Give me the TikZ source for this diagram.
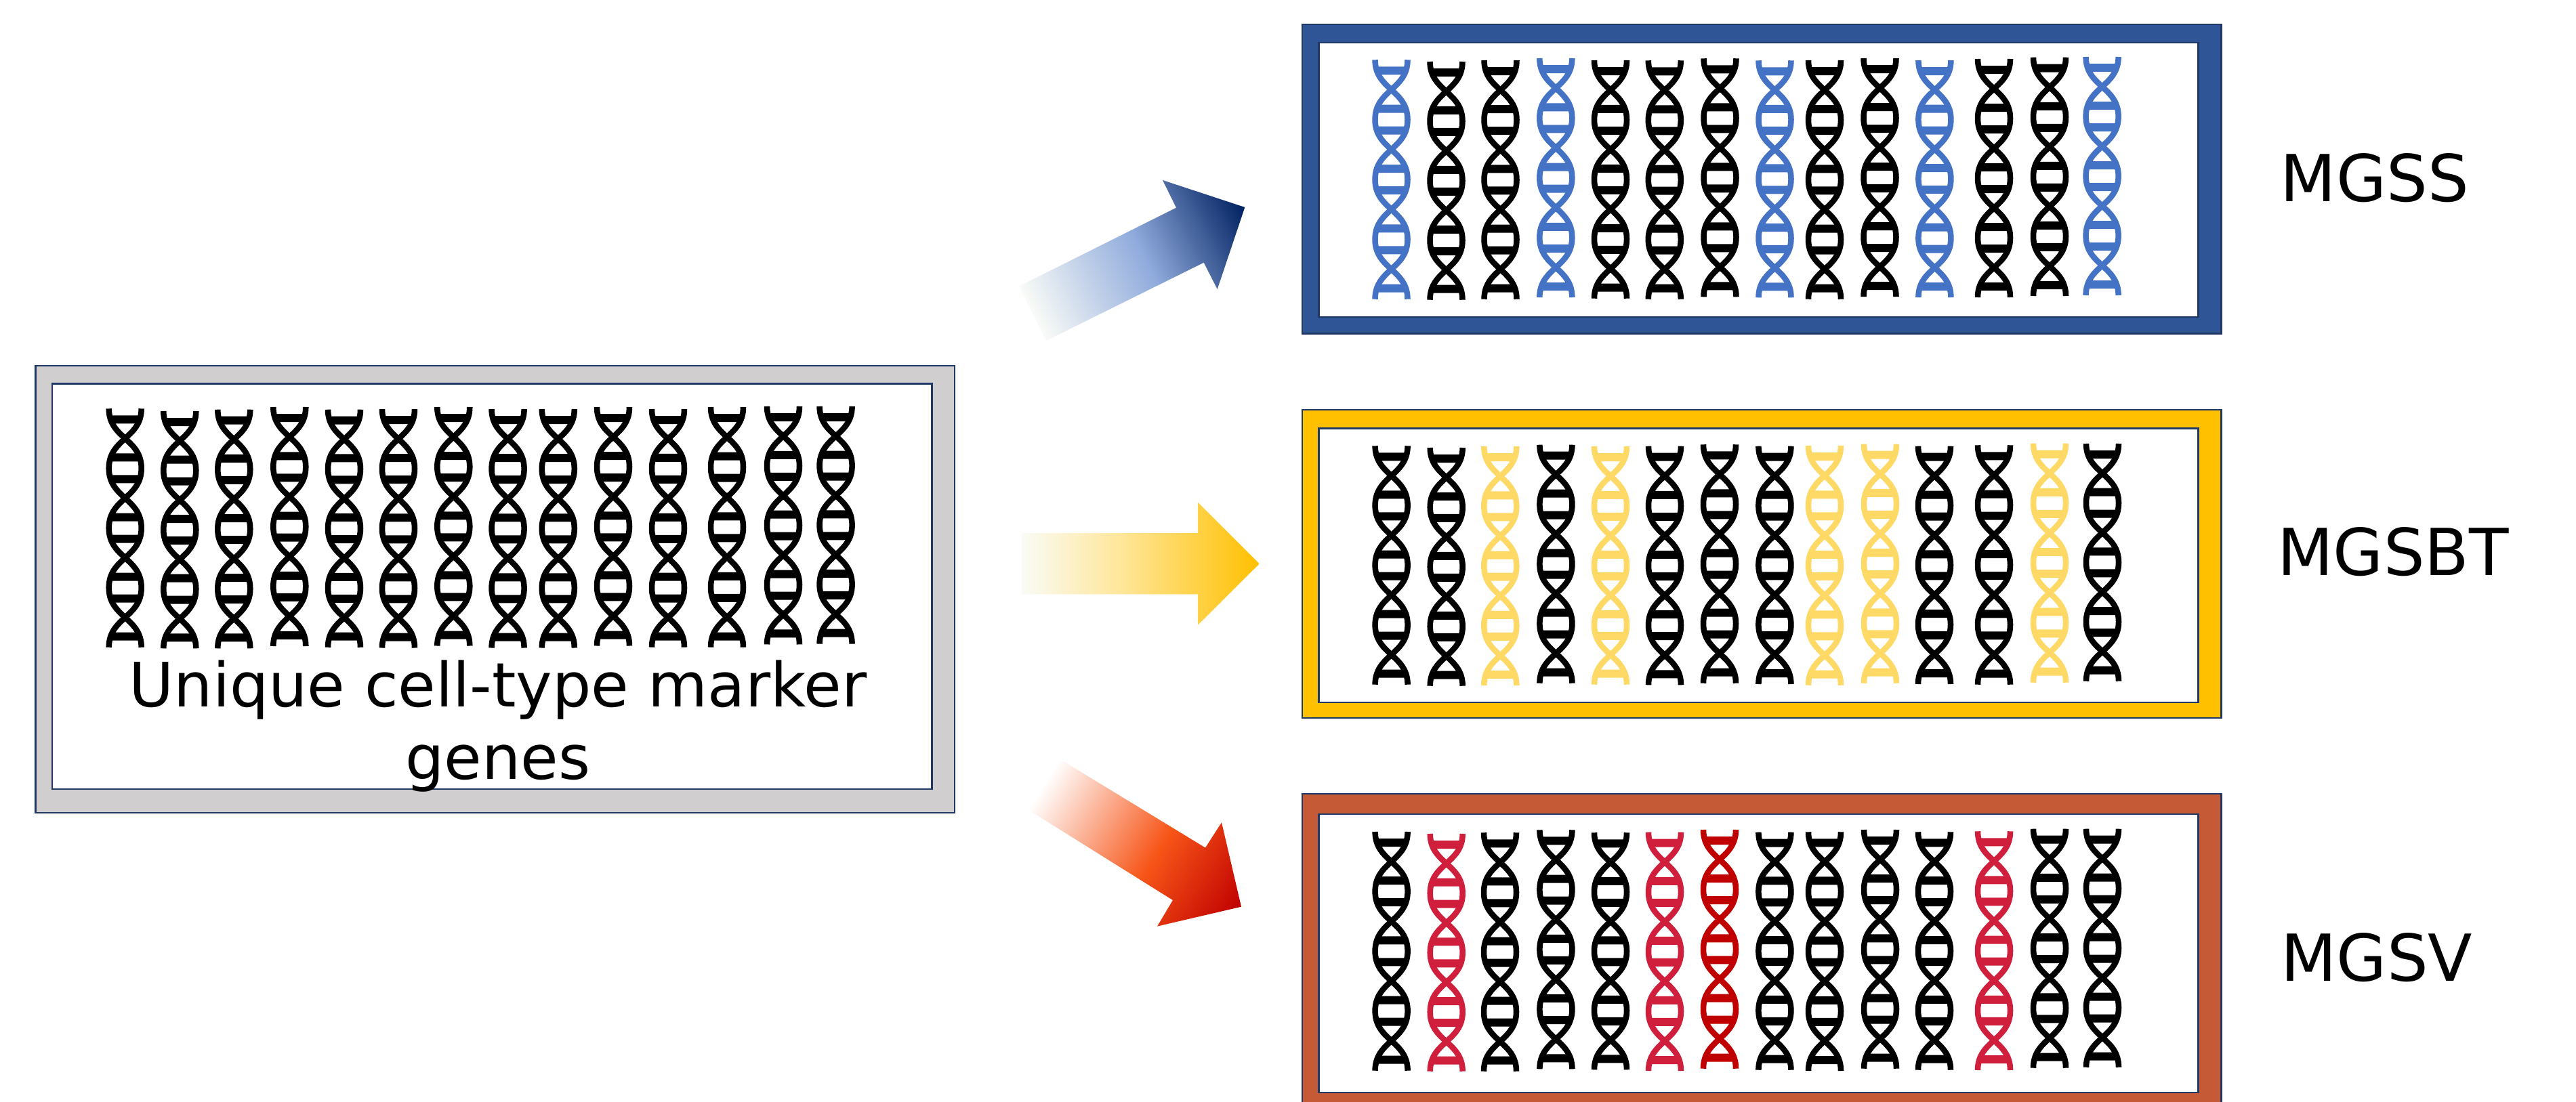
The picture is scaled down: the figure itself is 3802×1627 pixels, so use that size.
\documentclass[tikz,border=0pt]{standalone}
\usepackage{fontspec}
\setmainfont{DejaVu Sans}
\definecolor{edgeblue}{HTML}{203864}
\definecolor{panelgrey}{HTML}{D0CECE}
\definecolor{panelblue}{HTML}{2F5597}
\definecolor{panelyellow}{HTML}{FFC000}
\definecolor{panelred}{HTML}{C55A36}
\definecolor{dnablue}{HTML}{4472C4}
\definecolor{dnayellow}{HTML}{FFD966}
\definecolor{dnacrimson}{HTML}{D01F3C}
\definecolor{dnared}{HTML}{C00000}
\definecolor{bA}{HTML}{F9FBF7}\definecolor{bB}{HTML}{8FAADC}\definecolor{bC}{HTML}{002060}
\definecolor{yA}{HTML}{F9FBF5}\definecolor{yB}{HTML}{FFE699}\definecolor{yC}{HTML}{FFC000}
\definecolor{rA}{HTML}{FFFFFF}\definecolor{rB}{HTML}{F75518}\definecolor{rC}{HTML}{C00000}
\pgfdeclarehorizontalshading{blueflow}{100bp}{color(0bp)=(bA); color(25bp)=(bA); color(51.5bp)=(bB); color(75bp)=(bC); color(100bp)=(bC)}
\pgfdeclarehorizontalshading{yellowflow}{100bp}{color(0bp)=(yA); color(25bp)=(yA); color(46bp)=(yB); color(75bp)=(yC); color(100bp)=(yC)}
\pgfdeclarehorizontalshading{redflow}{100bp}{color(0bp)=(rA); color(25bp)=(rA); color(53.5bp)=(rB); color(75bp)=(rC); color(100bp)=(rC)}
\tikzset{
  outerframe/.style={draw=edgeblue,line width=0.75pt},
  innerframe/.style={draw=edgeblue,line width=0.75pt,fill=white},
  label/.style={font=\fontsize{27.2}{30.2}\selectfont,text=black,inner sep=0pt,anchor=base west},
}
% centre x, top y, bottom y, colour
\newcommand{\dna}[4]{%
  \begin{scope}[shift={(#1,#2)}]
    \pgfmathsetmacro{\hh}{(#3-#2)/4}
    \foreach \s in {1,-1}{
      \draw[#4,line width=2.42pt,line cap=butt]
        (-24*\s,0)
        .. controls (-24*\s,0.5*\hh) and (24*\s,0.5*\hh) .. (24*\s,\hh)
        .. controls (24*\s,1.5*\hh) and (-24*\s,1.5*\hh) .. (-24*\s,2*\hh)
        .. controls (-24*\s,2.5*\hh) and (24*\s,2.5*\hh) .. (24*\s,3*\hh)
        .. controls (24*\s,3.5*\hh) and (-24*\s,3.5*\hh) .. (-24*\s,4*\hh);
    }
    \foreach \k in {0,1,2,3}{
      \fill[#4] (-22.9,\k*\hh+10) -- (22.9,\k*\hh+10) -- (18.8,\k*\hh+22) -- (-18.8,\k*\hh+22) -- cycle;
      \fill[#4] (-22.9,\k*\hh+\hh-10) -- (22.9,\k*\hh+\hh-10) -- (18.8,\k*\hh+\hh-22) -- (-18.8,\k*\hh+\hh-22) -- cycle;
    }
  \end{scope}%
}
% shading, tail x, tail y, angle, length, outline
\newcommand{\flowarrow}[6]{%
  \begin{scope}
    \clip #6;
    \shade[shading=#1,transform canvas={shift={(#2,#3)},rotate=#4}] (0,-320) rectangle (#5,320);
  \end{scope}%
}
\begin{document}
\begin{tikzpicture}[x=0.01cm,y=-0.01cm]
\useasboundingbox (0,0) rectangle (3802,1627);
\clip (0,0) rectangle (3802,1627);
\fill[white] (0,0) rectangle (3802,1627);

% source panel
\draw[outerframe,fill=panelgrey] (52.5,540) rectangle (1409,1200);
\draw[innerframe] (77,566.5) rectangle (1375.5,1165);
% target panels
\draw[outerframe,fill=panelblue] (1922,36) rectangle (3278.5,492.5);
\draw[innerframe] (1946.5,63) rectangle (3244.5,468);
\draw[outerframe,fill=panelyellow] (1922,605) rectangle (3278.5,1060);
\draw[innerframe] (1946.5,632.5) rectangle (3244.5,1037);
\draw[outerframe,fill=panelred] (1922,1172) rectangle (3278.5,1660);
\draw[innerframe] (1946.5,1202) rectangle (3244.5,1613);

% block arrows
\flowarrow{blueflow}{1524}{463}{26.6}{350}{(1504,422.7) -- (1736,306.7) -- (1716,266) -- (1837.3,306) -- (1796.7,427) -- (1776.7,387.7) -- (1544,503) -- cycle}
\flowarrow{yellowflow}{1508.3}{832}{0}{350.4}{(1508.3,787) -- (1768,787) -- (1768,741.7) -- (1858.7,832.3) -- (1768,922.7) -- (1768,877.3) -- (1508.3,877.3) -- cycle}
\flowarrow{redflow}{1540.5}{1158}{-31.8}{343}{(1563,1120) -- (1779,1251.6) -- (1803,1214.3) -- (1832,1338.7) -- (1708,1367.6) -- (1731,1329) -- (1518,1195.8) -- cycle}

% source helices
\dna{184.7}{603.3}{955.7}{black}
\dna{265.3}{607}{957.3}{black}
\dna{345.3}{604.7}{957.3}{black}
\dna{427.3}{601}{954}{black}
\dna{508}{604.7}{955.7}{black}
\dna{588}{604}{956.5}{black}
\dna{669.3}{601}{953.5}{black}
\dna{749.6}{604}{956.5}{black}
\dna{823.8}{604}{956.5}{black}
\dna{905}{601}{953.5}{black}
\dna{986}{604}{955.6}{black}
\dna{1073}{601}{955.6}{black}
\dna{1156}{600}{951.4}{black}
\dna{1233.6}{600}{950.6}{black}

% MGSS helices
\dna{2053.5}{88.3}{441.7}{dnablue}
\dna{2134.5}{91}{442.7}{black}
\dna{2214.5}{89}{441.7}{black}
\dna{2296.3}{86}{439}{dnablue}
\dna{2377}{89}{440.7}{black}
\dna{2456.8}{89.3}{441.7}{black}
\dna{2538.5}{86.3}{438.3}{black}
\dna{2619.5}{89.3}{439.3}{dnablue}
\dna{2693}{89}{441.7}{black}
\dna{2774.5}{86}{438}{black}
\dna{2855.4}{89}{439}{dnablue}
\dna{2943}{87}{439}{black}
\dna{3025}{84.7}{437}{black}
\dna{3102.6}{84}{436}{dnablue}

% MGSBT helices
\dna{2053.6}{658.3}{1010.7}{black}
\dna{2134.7}{661}{1012.7}{black}
\dna{2214.3}{659}{1012}{dnayellow}
\dna{2296.4}{656.7}{1008.7}{black}
\dna{2377}{659}{1010.7}{dnayellow}
\dna{2457}{658.7}{1011.3}{black}
\dna{2538}{656.3}{1008.7}{black}
\dna{2619.4}{658.7}{1010}{black}
\dna{2693}{658}{1011.7}{dnayellow}
\dna{2775}{655.7}{1008.7}{dnayellow}
\dna{2855}{658.7}{1010}{black}
\dna{2943}{657.3}{1010.7}{black}
\dna{3025}{654.7}{1007.7}{dnayellow}
\dna{3103}{655}{1005.7}{black}

% MGSV helices
\dna{2053.6}{1228}{1580.7}{black}
\dna{2134.7}{1231}{1581.7}{dnacrimson}
\dna{2214}{1229.3}{1581.7}{black}
\dna{2296.4}{1225.3}{1578.3}{black}
\dna{2377}{1229.3}{1579.3}{black}
\dna{2457}{1228.7}{1581}{dnacrimson}
\dna{2538}{1225}{1577.7}{dnared}
\dna{2619.4}{1228.7}{1579.7}{black}
\dna{2693}{1228.3}{1581}{black}
\dna{2775}{1225}{1577.7}{black}
\dna{2855}{1228.3}{1579.7}{black}
\dna{2943}{1227.3}{1580}{dnacrimson}
\dna{3025}{1223.7}{1576.7}{black}
\dna{3103}{1223.7}{1575.7}{black}

% labels
\node[label] (mgss) at (3365,297) {MGSS};
\node[label] (mgsbt) at (3360.6,849) {MGSBT};
\node[label] (mgsv) at (3365.6,1448) {MGSV};
\node[font=\fontsize{25.7}{30.2}\selectfont,align=center,inner sep=0pt,anchor=center] (genes) at (735,1072) {Unique cell-type marker\\genes};
\end{tikzpicture}
\end{document}
